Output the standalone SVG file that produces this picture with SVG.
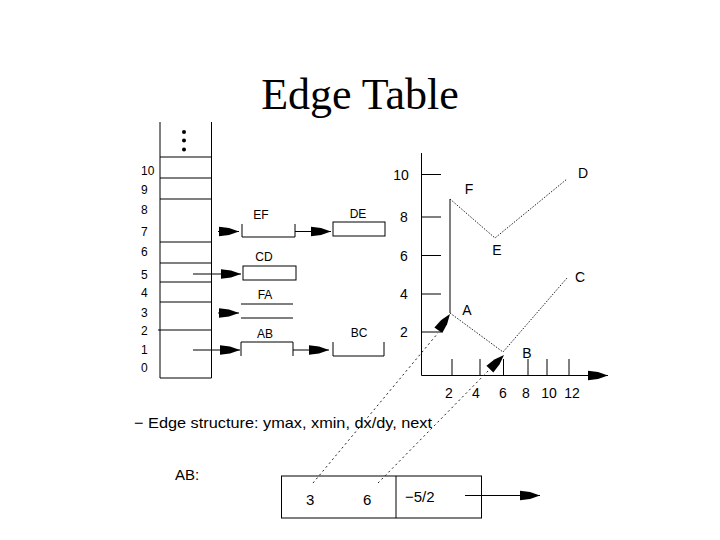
<svg xmlns="http://www.w3.org/2000/svg" width="720" height="540" viewBox="0 0 720 540">
<style>
.t{font-family:"Liberation Sans",Arial,sans-serif;fill:#000}
.s{font-size:12px}
.m{font-size:14px}
.l{font-size:15px}
.ln{stroke:#000;stroke-width:1;fill:none}
.dot{stroke:#222;stroke-width:1;fill:none;stroke-dasharray:1.5 1.5}
.ptr{stroke:#222;stroke-width:1;fill:none;stroke-dasharray:2 3}
</style>
<defs>
<marker id="ah" viewBox="-21 -6 21 12" refX="0" refY="0" markerWidth="21" markerHeight="12" markerUnits="userSpaceOnUse" orient="auto">
<path d="M-20,-4.8 L-10,-3.6 L0,0 L-10,3.6 L-20,4.8 Z" fill="#000"/>
</marker>
</defs>
<rect width="720" height="540" fill="#fff"/>
<text x="360" y="109" text-anchor="middle" style="font-family:'Liberation Serif','Times New Roman',serif;font-size:44px">Edge Table</text>

<g id="table">
<path class="ln" d="M160,122 V378 M211.5,122 V378 M160,157 H211.5 M160,178 H211.5 M160,199 H211.5 M160,242 H211.5 M160,263 H211.5 M160,282 H211.5 M160,302 H211.5 M158,330 H211.5 M160,378 H211.5"/>
<circle cx="184" cy="132" r="2"/><circle cx="184" cy="140.5" r="2"/><circle cx="184" cy="149.5" r="2"/>
<g class="t s">
<text x="141" y="175">10</text><text x="141" y="194">9</text><text x="141" y="214">8</text><text x="141" y="236">7</text><text x="141" y="256">6</text><text x="141" y="279">5</text><text x="141" y="297">4</text><text x="141" y="317">3</text><text x="141" y="335">2</text><text x="141" y="354">1</text><text x="141" y="372">0</text>
</g>
</g>

<g id="EF"><path class="ln" d="M242,224 V237 H295 V224"/><text class="t s" x="261" y="219" text-anchor="middle">EF</text></g>
<g id="DE"><rect class="ln" x="333" y="222" width="52" height="14"/><text class="t s" x="358" y="218" text-anchor="middle">DE</text></g>
<g id="CD"><rect class="ln" x="243" y="266" width="53" height="14"/><text class="t s" x="264" y="261" text-anchor="middle">CD</text></g>
<g id="FA"><path class="ln" d="M241,304 H293 M241,318 H293"/><text class="t s" x="265" y="299" text-anchor="middle">FA</text></g>
<g id="AB"><path class="ln" d="M241,356 V342 H293 V356"/><text class="t s" x="265" y="338" text-anchor="middle">AB</text></g>
<g id="BC"><path class="ln" d="M333,342 V356 H384 V342"/><text class="t s" x="359" y="337" text-anchor="middle">BC</text></g>

<g id="graph">
<path class="ln" d="M421.5,153 V375.5 M421.5,174.5 H441 M421.5,217 H441 M421.5,255.5 H441 M421.5,294 H441 M421.5,332 H441 M452,359 V375.5 M480,359 V375.5 M503.5,359 V375.5 M528,359 V375.5 M547,359 V375.5 M569,359 V375.5"/>
<g class="t m" text-anchor="middle">
<text x="401" y="180">10</text><text x="404" y="222">8</text><text x="404" y="261">6</text><text x="404" y="299">4</text><text x="404" y="337">2</text>
<text x="449" y="398">2</text><text x="476" y="398">4</text><text x="503" y="398">6</text><text x="526" y="398">8</text><text x="549" y="398">10</text><text x="572" y="398">12</text>
<text x="469" y="194">F</text><text x="583" y="178">D</text><text x="497" y="255">E</text><text x="580" y="282">C</text><text x="467" y="315">A</text><text x="527" y="358">B</text>
</g>
<path class="ln" d="M450,199 V313"/>
<path class="dot" d="M450,199 L495,238 L567,179 M450,313 L503,352 L567,278"/>
</g>

<g id="record">
<text class="t l" x="134" y="428" textLength="298" lengthAdjust="spacingAndGlyphs">− Edge structure: ymax, xmin, dx/dy, next</text>
<text class="t l" x="175" y="480">AB:</text>
<rect class="ln" x="281.5" y="476" width="200" height="42"/>
<path class="ln" d="M396,476 V518"/>
<g class="t l"><text x="306" y="505">3</text><text x="363" y="505">6</text><text x="405" y="502">−5/2</text></g>
</g>

<g id="connectors">
<line class="ln" x1="218" y1="231.5" x2="239" y2="231.5" marker-end="url(#ah)"/>
<line class="ln" x1="295" y1="231.5" x2="331" y2="231.5" marker-end="url(#ah)"/>
<line class="ln" x1="193" y1="274" x2="241" y2="274" marker-end="url(#ah)"/>
<line class="ln" x1="218" y1="313" x2="239" y2="313" marker-end="url(#ah)"/>
<line class="ln" x1="193" y1="350" x2="240" y2="350" marker-end="url(#ah)"/>
<line class="ln" x1="293" y1="350" x2="329" y2="350" marker-end="url(#ah)"/>
<line class="ln" x1="421.5" y1="375.5" x2="608" y2="375.5" marker-end="url(#ah)"/>
<line class="ln" x1="465" y1="495.5" x2="540" y2="495.5" marker-end="url(#ah)"/>
<line class="ptr" x1="313" y1="483" x2="438" y2="333"/>
<line class="ptr" x1="378" y1="483" x2="490" y2="369"/>
<line x1="437" y1="332" x2="450" y2="314" stroke="none" marker-end="url(#ah)"/>
<line x1="489" y1="370" x2="504" y2="355" stroke="none" marker-end="url(#ah)"/>
</g>
</svg>
